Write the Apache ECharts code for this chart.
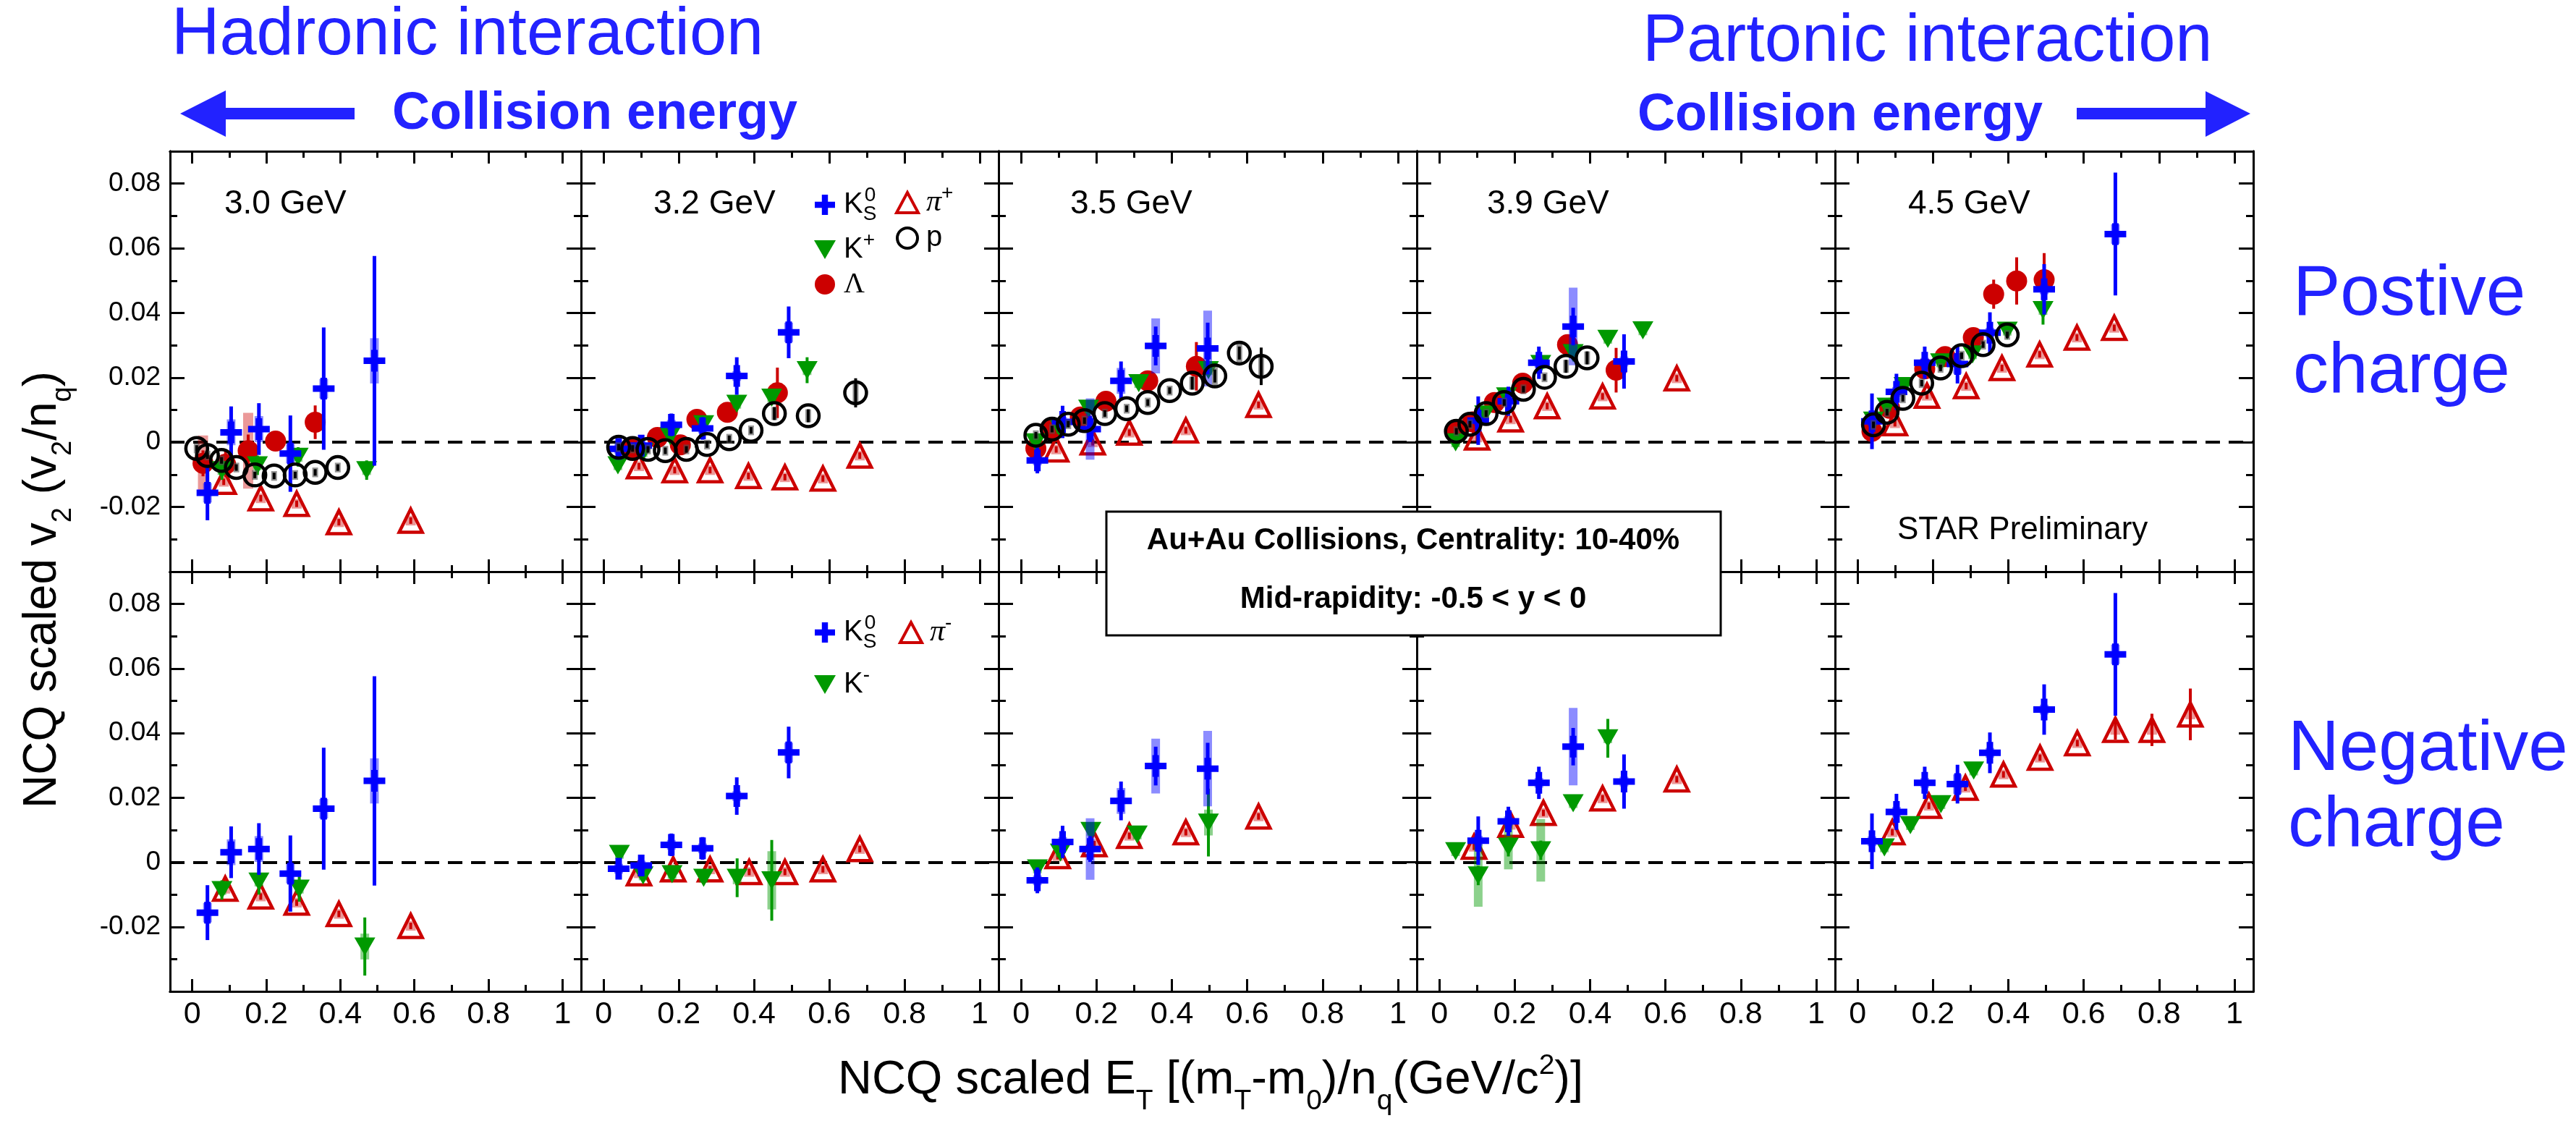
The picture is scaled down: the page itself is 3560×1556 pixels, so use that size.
<!DOCTYPE html>
<html>
<head>
<meta charset="utf-8">
<script src="https://cdn.jsdelivr.net/npm/echarts@6/dist/echarts.min.js"></script>
<style>
  html, body { margin: 0; padding: 0; background: #fff; }
  #chart { width: 3560px; height: 1556px; }
</style>
</head>
<body>
<div id="chart"></div>
<script>
// points are [x, v2/nq, stat err, sys err]; errors default to small values when missing
const energies = ["3.0 GeV", "3.2 GeV", "3.5 GeV", "3.9 GeV", "4.5 GeV"];
const xMajor = [0, 0.2, 0.4, 0.6, 0.8, 1];
const xMinor = [0.1, 0.3, 0.5, 0.7, 0.9];
const yMajor = [-0.02, 0, 0.02, 0.04, 0.06, 0.08];
const yMinor = [-0.03, -0.01, 0.01, 0.03, 0.05, 0.07];

// 3.0 GeV
const ks0_30 = [[0.041, -0.0156, 0.0085, 0.003], [0.105, 0.0031, 0.008, 0.004], [0.18, 0.0041, 0.008, 0.004], [0.265, -0.0035, 0.0118, 0.003], [0.355, 0.0166, 0.0189, 0.003], [0.492, 0.0252, 0.0324, 0.007]];
const lam_30 = [[0.029, -0.0065, 0.004, 0.0086], [0.09, -0.0068, 0.004, 0.003], [0.151, -0.0026, 0.005, 0.0117], [0.225, 0.0004, 0.003, 0.002], [0.332, 0.0062, 0.0052, 0.002]];
const kp_30 = [[0.08, -0.0086, 0.003], [0.176, -0.0071, 0.003], [0.286, -0.0045, 0.003], [0.471, -0.0086, 0.003]];
const p_30 = [[0.012, -0.0019], [0.041, -0.0041], [0.079, -0.0056], [0.119, -0.0078], [0.169, -0.0101], [0.221, -0.0104], [0.278, -0.0101], [0.332, -0.0093], [0.393, -0.0078]];
const pip_30 = [[0.085, -0.0122], [0.185, -0.0173], [0.282, -0.019], [0.396, -0.0247], [0.59, -0.0242]];
const km_30 = [[0.08, -0.0086, 0.003], [0.18, -0.006, 0.004], [0.289, -0.0082, 0.004], [0.466, -0.0261, 0.009, 0.004]];
const pim_30 = [[0.089, -0.0082], [0.185, -0.0106], [0.282, -0.0125], [0.396, -0.016], [0.59, -0.0197]];

// 3.2 GeV
const ks0_32 = [[0.04, -0.002, 0.003], [0.1, -0.001, 0.003], [0.18, 0.0054, 0.0035], [0.263, 0.0043, 0.0035], [0.354, 0.0205, 0.0058], [0.492, 0.034, 0.008, 0.003]];
const lam_32 = [[0.072, -0.0018], [0.143, 0.0015], [0.204, -0.0008], [0.248, 0.0071, 0.003], [0.329, 0.0093, 0.003], [0.462, 0.0153, 0.0078, 0.003]];
const kp_32 = [[0.038, -0.0071], [0.105, -0.003], [0.177, 0.0019], [0.266, 0.0056], [0.354, 0.0119], [0.447, 0.0138], [0.541, 0.0223, 0.004]];
const p_32 = [[0.04, -0.0015], [0.077, -0.0019], [0.118, -0.0022], [0.164, -0.0026], [0.22, -0.0022], [0.275, -0.0007], [0.334, 0.0011], [0.392, 0.0037], [0.454, 0.0089, 0.002, 0.002], [0.544, 0.0082, 0.002, 0.002], [0.67, 0.0153, 0.0045, 0.003]];
const pip_32 = [[0.094, -0.0074], [0.189, -0.0086], [0.283, -0.0086], [0.385, -0.0104], [0.482, -0.0108], [0.583, -0.0112], [0.681, -0.0041]];
const km_32 = [[0.042, 0.0026], [0.105, -0.0041], [0.182, -0.0037], [0.266, -0.0048], [0.355, -0.0048, 0.006, 0.002], [0.447, -0.0056, 0.0125, 0.009]];
const pim_32 = [[0.094, -0.0034], [0.185, -0.0022], [0.283, -0.0022], [0.387, -0.003], [0.482, -0.003], [0.583, -0.0022], [0.681, 0.0041]];

// 3.5 GeV
const ks0_35 = [[0.043, -0.0056, 0.004], [0.11, 0.0063, 0.005], [0.183, 0.0041, 0.004, 0.0095], [0.265, 0.019, 0.006, 0.004], [0.357, 0.0298, 0.006, 0.0085], [0.495, 0.029, 0.008, 0.0117]];
const lam_35 = [[0.039, -0.0019], [0.085, 0.004], [0.157, 0.0078], [0.225, 0.0127], [0.336, 0.019], [0.465, 0.0235, 0.0075]];
const kp_35 = [[0.039, 0.0], [0.104, 0.0041], [0.179, 0.0104], [0.312, 0.0183], [0.497, 0.0223]];
const p_35 = [[0.039, 0.0022], [0.082, 0.0041], [0.125, 0.0056], [0.168, 0.0067], [0.222, 0.0089], [0.28, 0.0104], [0.336, 0.0123], [0.394, 0.016], [0.454, 0.0183, 0.002, 0.002], [0.514, 0.0205, 0.002, 0.003], [0.579, 0.0276, 0.002, 0.003], [0.637, 0.0235, 0.0058, 0.003]];
const pip_35 = [[0.093, -0.0022], [0.19, 0.0], [0.287, 0.003], [0.437, 0.0037], [0.63, 0.0116]];
const km_35 = [[0.043, -0.0019], [0.104, 0.003], [0.185, 0.0097], [0.308, 0.0086], [0.497, 0.0123, 0.0105, 0.004]];
const pim_35 = [[0.097, 0.0019], [0.194, 0.0056], [0.287, 0.0082], [0.437, 0.0093], [0.63, 0.0142]];

// 3.9 GeV
const ks0_39 = [[0.103, 0.0067, 0.0075], [0.183, 0.0127, 0.0045], [0.264, 0.0246, 0.005], [0.355, 0.0358, 0.0058, 0.012], [0.49, 0.025, 0.0084]];
const lam_39 = [[0.045, 0.0037], [0.088, 0.0063], [0.146, 0.0123], [0.221, 0.0183], [0.34, 0.0302], [0.469, 0.0223, 0.0069]];
const kp_39 = [[0.043, 0.0], [0.12, 0.0086], [0.178, 0.0142], [0.269, 0.0242], [0.355, 0.0276], [0.447, 0.032], [0.54, 0.0346]];
const p_39 = [[0.045, 0.0034], [0.081, 0.0056], [0.124, 0.0089], [0.172, 0.0123], [0.223, 0.0164], [0.279, 0.0201], [0.336, 0.0235, 0.002, 0.002], [0.392, 0.0261, 0.002, 0.002]];
const pip_39 = [[0.1, 0.0015], [0.189, 0.0071], [0.286, 0.0112], [0.433, 0.0142], [0.63, 0.0198]];
const km_39 = [[0.043, 0.0034], [0.103, -0.0041, 0.003, 0.0097], [0.183, 0.0048, 0.003, 0.007], [0.269, 0.0037, 0.003, 0.0097], [0.355, 0.0183], [0.447, 0.0384, 0.006]];
const pim_39 = [[0.092, 0.0048], [0.189, 0.0116], [0.276, 0.0153], [0.433, 0.0198], [0.63, 0.0257]];

// 4.5 GeV
const ks0_45 = [[0.038, 0.0065, 0.0086], [0.103, 0.0156, 0.0056], [0.178, 0.0246, 0.005], [0.265, 0.0242, 0.006, 0.003], [0.351, 0.0339, 0.0063], [0.495, 0.0473, 0.0078], [0.684, 0.0644, 0.019, 0.003]];
const lam_45 = [[0.038, 0.0034], [0.085, 0.0105], [0.178, 0.0227], [0.232, 0.0265], [0.307, 0.0324], [0.361, 0.0458, 0.0045], [0.422, 0.0499, 0.0073], [0.495, 0.0503, 0.0082]];
const kp_45 = [[0.042, 0.0067], [0.078, 0.011], [0.123, 0.0174], [0.22, 0.0247], [0.305, 0.0272], [0.397, 0.0345], [0.492, 0.0409, 0.0045]];
const p_45 = [[0.042, 0.0054], [0.078, 0.0093], [0.12, 0.0136], [0.17, 0.0183], [0.22, 0.023], [0.276, 0.0268], [0.333, 0.0302], [0.397, 0.0332]];
const pip_45 = [[0.099, 0.0059], [0.184, 0.0144], [0.288, 0.0174], [0.383, 0.023], [0.483, 0.0272], [0.582, 0.0324], [0.681, 0.0354]];
const km_45 = [[0.071, 0.0046], [0.14, 0.0115], [0.221, 0.018], [0.308, 0.0284]];
const pim_45 = [[0.092, 0.0093], [0.189, 0.0175], [0.286, 0.0231], [0.387, 0.0272], [0.484, 0.0324], [0.583, 0.0369], [0.684, 0.041, 0.003], [0.781, 0.041, 0.005], [0.883, 0.0458, 0.008]];

const topPanels = [
  { pi: pip_30, lam: lam_30, k: kp_30, ks: ks0_30, p: p_30 },
  { pi: pip_32, lam: lam_32, k: kp_32, ks: ks0_32, p: p_32 },
  { pi: pip_35, lam: lam_35, k: kp_35, ks: ks0_35, p: p_35 },
  { pi: pip_39, lam: lam_39, k: kp_39, ks: ks0_39, p: p_39 },
  { pi: pip_45, lam: lam_45, k: kp_45, ks: ks0_45, p: p_45 },
];
const botPanels = [
  { pi: pim_30, k: km_30, ks: ks0_30 },
  { pi: pim_32, k: km_32, ks: ks0_32 },
  { pi: pim_35, k: km_35, ks: ks0_35 },
  { pi: pim_39, k: km_39, ks: ks0_39 },
  { pi: pim_45, k: km_45, ks: ks0_45 },
];

const FONT = '"Liberation Sans", Arial, Helvetica, sans-serif';
const SERIF = '"Liberation Serif", "DejaVu Serif", serif';
const BLUE = "#2222ff";
const colLeft = [235, 803, 1380, 1958, 2536];
const colRight = [803, 1380, 1958, 2536, 3114];
const rowTop = [209, 790];
const rowBottom = [790, 1370];
const xExt = [-0.06, 1.05];
const yExt = [-0.04, 0.09];

const CROSS = "path://M0.35,0H0.65V0.35H1V0.65H0.65V1H0.35V0.65H0V0.35H0.35Z";
const DOWN = "path://M0,0H1L0.5,0.86Z";

const sty = {
  pi:  { z: 3, symbol: "triangle", size: [32, 32], fill: "rgba(0,0,0,0)", stroke: "#cc0000", bw: 4.5, line: "#cc0000", lw: 4, sys: "rgba(204,0,0,0.4)", sysW: 14 },
  lam: { z: 4, symbol: "circle", size: 29, fill: "#cc0000", stroke: "#cc0000", bw: 0, line: "#cc0000", lw: 4, sys: "rgba(204,0,0,0.4)", sysW: 14 },
  k:   { z: 5, symbol: DOWN, size: [29, 25], fill: "#009900", stroke: "#009900", bw: 0, line: "#009900", lw: 4, sys: "rgba(0,153,0,0.45)", sysW: 12 },
  ks:  { z: 6, symbol: CROSS, size: 30, fill: "#0000ff", stroke: "#0000ff", bw: 0, line: "#0000ff", lw: 5, sys: "rgba(0,0,255,0.45)", sysW: 12 },
  p:   { z: 7, symbol: "circle", size: 30, fill: "rgba(0,0,0,0)", stroke: "#000", bw: 4.5, line: "#000", lw: 4, sys: "rgba(80,80,80,0.6)", sysW: 8 },
};
const topNames = { pi: "pi+", lam: "Lambda", k: "K+", ks: "K0S", p: "p" };
const botNames = { pi: "pi-", k: "K-", ks: "K0S" };

const full = arr => arr.map(d => [d[0], d[1], d[2] != null ? d[2] : 0.001, d[3] != null ? d[3] : 0.0015]);

function errItem(st) {
  return function (params, api) {
    const x = api.value(0), y = api.value(1), es = api.value(2), ey = api.value(3);
    const c = api.coord([x, y]);
    const a = api.coord([x, y + es]), b = api.coord([x, y - es]);
    const s1 = api.coord([x, y + ey]), s2 = api.coord([x, y - ey]);
    return {
      type: "group",
      children: [
        { type: "rect", shape: { x: c[0] - st.sysW / 2, y: s1[1], width: st.sysW, height: s2[1] - s1[1] }, style: { fill: st.sys } },
        { type: "line", shape: { x1: c[0], y1: a[1], x2: c[0], y2: b[1] }, style: { stroke: st.line, lineWidth: st.lw } },
      ],
    };
  };
}

const axisLineStyle = { color: "#000", width: 3 };
const grids = [], xAxes = [], yAxes = [], series = [];

for (let r = 0; r < 2; r++) {
  for (let c = 0; c < 5; c++) {
    const g = r * 5 + c;
    grids.push({
      left: colLeft[c], top: rowTop[r],
      width: colRight[c] - colLeft[c], height: rowBottom[r] - rowTop[r],
      containLabel: false, outerBoundsMode: "none",
    });
    const xa = (pos, vals, len, lab) => ({
      gridIndex: g, type: "value", position: pos, min: xExt[0], max: xExt[1],
      axisLine: { show: true, onZero: false, lineStyle: axisLineStyle },
      axisTick: { show: true, inside: true, length: len, customValues: vals, lineStyle: axisLineStyle },
      axisLabel: {
        show: lab, customValues: vals, margin: 11, color: "#000", fontSize: 43, fontFamily: FONT,
        formatter: v => (Math.abs(v) < 1e-9 ? "0" : String(Math.round(v * 10) / 10)),
      },
      splitLine: { show: false },
    });
    xAxes.push(xa("bottom", xMajor, 17, r === 1), xa("bottom", xMinor, 9, false),
               xa("top", xMajor, 17, false), xa("top", xMinor, 9, false));
    const ya = (pos, vals, len, lab) => ({
      gridIndex: g, type: "value", position: pos, min: yExt[0], max: yExt[1],
      axisLine: { show: true, onZero: false, lineStyle: axisLineStyle },
      axisTick: { show: true, inside: true, length: len, customValues: vals, lineStyle: axisLineStyle },
      axisLabel: {
        show: lab, customValues: vals, margin: 13, color: "#000", fontSize: 37, fontFamily: FONT,
        formatter: v => (Math.abs(v) < 1e-9 ? "0" : v.toFixed(2)),
      },
      splitLine: { show: false },
    });
    yAxes.push(ya("left", yMajor, 20, c === 0), ya("left", yMinor, 10, false),
               ya("right", yMajor, 20, false), ya("right", yMinor, 10, false));

    const xi = 4 * g, yi = 4 * g;
    // dashed zero line
    series.push({
      type: "scatter", xAxisIndex: xi, yAxisIndex: yi, data: [], z: 1, silent: true,
      markLine: {
        silent: true, symbol: "none", label: { show: false }, animation: false,
        lineStyle: { color: "#000", type: [20, 12], width: 4 },
        data: [{ yAxis: 0 }],
      },
    });
    const panel = r === 0 ? topPanels[c] : botPanels[c];
    const names = r === 0 ? topNames : botNames;
    Object.keys(panel).forEach(key => {
      const st = sty[key];
      const d = full(panel[key]);
      series.push({
        type: "custom", xAxisIndex: xi, yAxisIndex: yi, data: d, encode: { x: 0, y: 1 },
        renderItem: errItem(st), z: st.z * 2 - 1, silent: true,
      });
      series.push({
        type: "scatter", name: names[key], xAxisIndex: xi, yAxisIndex: yi, data: d, encode: { x: 0, y: 1 },
        symbol: st.symbol, symbolSize: st.size, z: st.z * 2, silent: true,
        itemStyle: { color: st.fill, borderColor: st.stroke, borderWidth: st.bw, opacity: 1 },
      });
    });
  }
}

const legendRich = {
  m: { fontSize: 40, fontFamily: FONT, color: "#000", lineHeight: 46 },
  g: { fontSize: 42, fontFamily: SERIF, fontStyle: "italic", color: "#000", lineHeight: 46 },
  l: { fontSize: 40, fontFamily: SERIF, color: "#000", lineHeight: 46 },
  sb: { fontSize: 28, fontFamily: FONT, color: "#000", verticalAlign: "bottom", height: 20, lineHeight: 20, width: 2 },
  sp: { fontSize: 28, fontFamily: FONT, color: "#000", verticalAlign: "top", height: 20, lineHeight: 20 },
};
const legendText = {
  "K0S": "{m|K}{sb|S}{sp|0}", "K+": "{m|K}{sp|+}", "Lambda": "{l|Λ}",
  "pi+": "{g|π}{sp|+}", "p": "{m|p}", "K-": "{m|K}{sp|-}", "pi-": "{g|π}{sp|-}",
};
const legendItem = {
  "K0S": { name: "K0S", icon: CROSS },
  "K+": { name: "K+", icon: DOWN },
  "K-": { name: "K-", icon: DOWN },
  "Lambda": { name: "Lambda", icon: "circle" },
  "pi+": { name: "pi+", icon: "triangle", itemStyle: { color: "rgba(0,0,0,0)", borderColor: "#cc0000", borderWidth: 4 } },
  "pi-": { name: "pi-", icon: "triangle", itemStyle: { color: "rgba(0,0,0,0)", borderColor: "#cc0000", borderWidth: 4 } },
  "p": { name: "p", icon: "circle", itemStyle: { color: "rgba(0,0,0,0)", borderColor: "#000", borderWidth: 4 } },
};
const mkLegend = (left, top, gap, names) => ({
  left, top, orient: "vertical", padding: 0, itemGap: gap, itemWidth: 30, itemHeight: 28,
  selectedMode: false, data: names.map(n => legendItem[n]),
  formatter: n => legendText[n],
  textStyle: { fontSize: 40, fontFamily: FONT, color: "#000", padding: [0, 0, 0, 6], rich: legendRich },
});

// rich text helpers for axis titles
const titleRich = (F, L) => ({
  m: { fontSize: F, fontFamily: FONT, color: "#000", lineHeight: L },
  sb: { fontSize: Math.round(F * 0.6), fontFamily: FONT, color: "#000", verticalAlign: "bottom", height: 22, lineHeight: 22 },
  sp: { fontSize: Math.round(F * 0.6), fontFamily: FONT, color: "#000", verticalAlign: "top", height: 40, lineHeight: 40 },
});

const txt = (x, y, text, font, fill, align, extra) => Object.assign({
  type: "text", x, y, z: 50,
  style: { text, font, fill, align: align || "left", textAlign: align || "left", verticalAlign: "middle", textVerticalAlign: "middle" },
}, extra || {});

const graphic = [
  txt(237, 50, "Hadronic interaction", `92px ${FONT}`, BLUE),
  txt(2270, 59, "Partonic interaction", `92px ${FONT}`, BLUE),
  txt(542, 158, "Collision energy", `bold 72px ${FONT}`, BLUE),
  txt(2263, 160, "Collision energy", `bold 72px ${FONT}`, BLUE),
  { type: "polygon", z: 50, shape: { points: [[249, 157], [312, 125], [312, 149], [490, 149], [490, 165], [312, 165], [312, 189]] }, style: { fill: BLUE } },
  { type: "polygon", z: 50, shape: { points: [[3110, 157], [3048, 126], [3048, 149], [2870, 149], [2870, 165], [3048, 165], [3048, 189]] }, style: { fill: BLUE } },
  txt(3169, 408, "Postive", `98px ${FONT}`, BLUE),
  txt(3169, 515, "charge", `98px ${FONT}`, BLUE),
  txt(3162, 1037, "Negative", `98px ${FONT}`, BLUE),
  txt(3162, 1142, "charge", `98px ${FONT}`, BLUE),
  txt(310, 282, energies[0], `46px ${FONT}`, "#000"),
  txt(903, 282, energies[1], `46px ${FONT}`, "#000"),
  txt(1479, 282, energies[2], `46px ${FONT}`, "#000"),
  txt(2055, 282, energies[3], `46px ${FONT}`, "#000"),
  txt(2637, 282, energies[4], `46px ${FONT}`, "#000"),
  txt(2622, 733, "STAR Preliminary", `44px ${FONT}`, "#000"),
  { type: "rect", z: 100, shape: { x: 1529, y: 707, width: 849, height: 171 }, style: { fill: "#fff", stroke: "#000", lineWidth: 3 } },
  txt(1953, 747, "Au+Au Collisions, Centrality: 10-40%", `bold 42px ${FONT}`, "#000", "center", { z: 101 }),
  txt(1953, 828, "Mid-rapidity: -0.5 < y < 0", `bold 42px ${FONT}`, "#000", "center", { z: 101 }),
  {
    type: "text", x: 1673, y: 1493, z: 50,
    style: {
      text: "{m|NCQ scaled E}{sb|T}{m| [(m}{sb|T}{m|-m}{sb|0}{m|)/n}{sb|q}{m|(GeV/c}{sp|2}{m|)]}",
      rich: titleRich(65, 80), align: "center", textAlign: "center", verticalAlign: "middle", textVerticalAlign: "middle",
    },
  },
  {
    type: "text", x: 59, y: 815, z: 50, rotation: Math.PI / 2,
    style: {
      text: "{m|NCQ scaled v}{sb|2}{m| (v}{sb|2}{m|/n}{sb|q}{m|)}",
      rich: titleRich(64, 80), align: "center", textAlign: "center", verticalAlign: "middle", textVerticalAlign: "middle",
    },
  },
];

const chart = echarts.init(document.getElementById("chart"), null, { renderer: "canvas" });
chart.setOption({
  animation: false,
  backgroundColor: "#fff",
  textStyle: { fontFamily: FONT },
  grid: grids,
  xAxis: xAxes,
  yAxis: yAxes,
  legend: [
    mkLegend(1125, 256, 8, ["K0S", "K+", "Lambda"]),
    mkLegend(1237, 253, 8, ["pi+", "p"]),
    mkLegend(1125, 847, 18, ["K0S", "K-"]),
    mkLegend(1242, 847, 18, ["pi-"]),
  ],
  series,
  graphic,
});
</script>
</body>
</html>
